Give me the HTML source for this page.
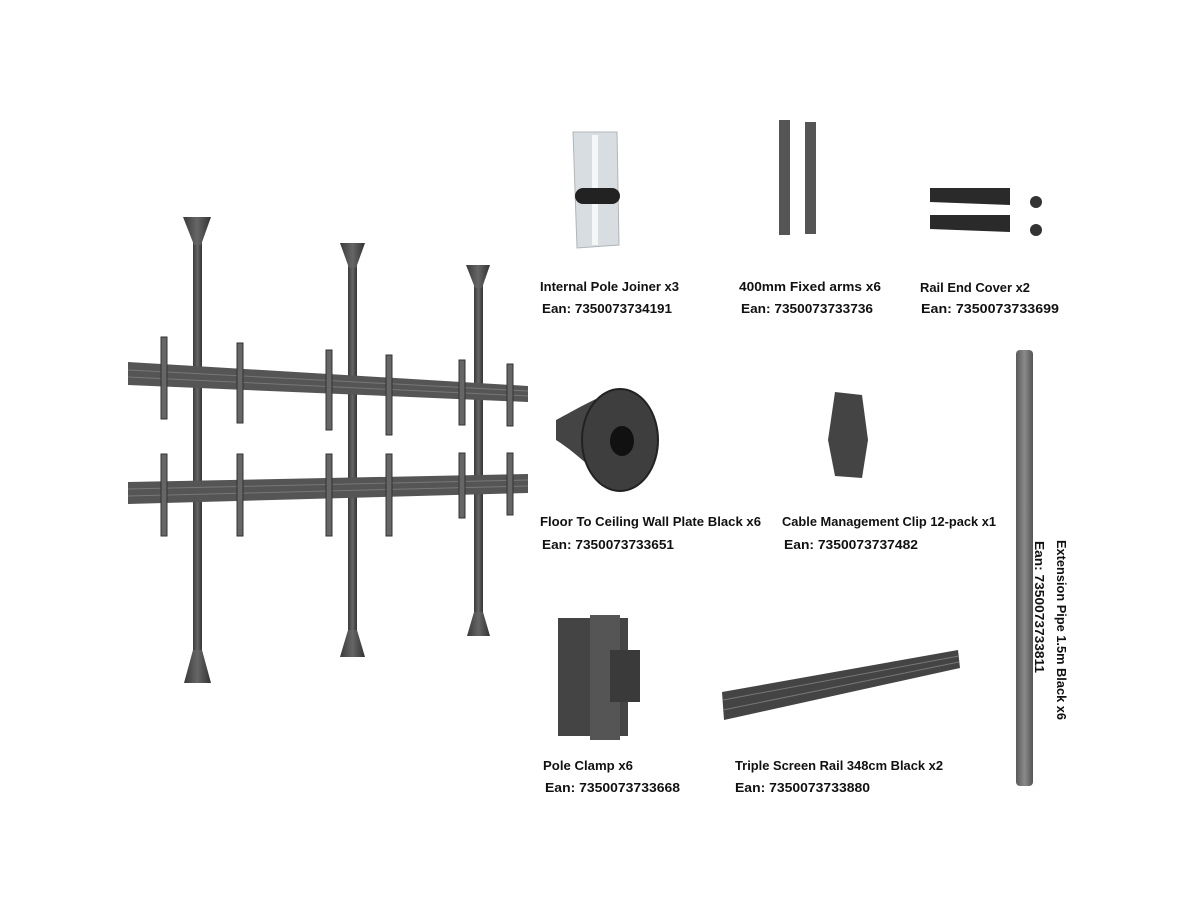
<!DOCTYPE html>
<html><head><meta charset="utf-8"><style>
html,body{margin:0;padding:0;background:#fff;overflow:hidden}
svg{display:block}
text{font-family:"Liberation Sans",sans-serif;font-weight:bold;font-size:13px;fill:#111}
</style></head><body>
<svg width="1200" height="900" viewBox="0 0 1200 900" xmlns="http://www.w3.org/2000/svg">
<defs>
<linearGradient id="pg" x1="0" x2="1"><stop offset="0" stop-color="#3a3a3a"/><stop offset="0.5" stop-color="#666"/><stop offset="1" stop-color="#333"/></linearGradient>
<linearGradient id="pp" x1="0" x2="1"><stop offset="0" stop-color="#5a5a5a"/><stop offset="0.5" stop-color="#8a8a8a"/><stop offset="1" stop-color="#555"/></linearGradient>
</defs>
<!-- poles -->
<g fill="url(#pg)">
<rect x="193" y="228" width="9" height="430"/>
<rect x="348" y="258" width="9" height="380"/>
<rect x="474" y="278" width="9" height="340"/>
<path d="M183 217 L211 217 L201 245 L194 245 Z"/>
<path d="M340 243 L365 243 L356 268 L349 268 Z"/>
<path d="M466 265 L490 265 L482 288 L475 288 Z"/>
<path d="M193 650 L202 650 L211 683 L184 683 Z"/>
<path d="M348 630 L357 630 L365 657 L340 657 Z"/>
<path d="M474 612 L483 612 L490 636 L467 636 Z"/>
</g>
<!-- rails -->
<path d="M128 362 L528 386 L528 402 L128 385 Z" fill="#555"/>
<path d="M128 482 L528 474 L528 493 L128 504 Z" fill="#555"/>
<g stroke="#777" stroke-width="1">
<line x1="128" y1="370" x2="528" y2="391"/><line x1="128" y1="377" x2="528" y2="396"/>
<line x1="128" y1="489" x2="528" y2="480"/><line x1="128" y1="496" x2="528" y2="486"/>
</g>
<!-- arms -->
<g fill="#666" stroke="#333" stroke-width="1">
<rect x="161" y="337" width="6" height="82"/><rect x="237" y="343" width="6" height="80"/>
<rect x="326" y="350" width="6" height="80"/><rect x="386" y="355" width="6" height="80"/>
<rect x="459" y="360" width="6" height="65"/><rect x="507" y="364" width="6" height="62"/>
<rect x="161" y="454" width="6" height="82"/><rect x="237" y="454" width="6" height="82"/>
<rect x="326" y="454" width="6" height="82"/><rect x="386" y="454" width="6" height="82"/>
<rect x="459" y="453" width="6" height="65"/><rect x="507" y="453" width="6" height="62"/>
</g>
<!-- pole joiner -->
<path d="M573 132 L617 132 L619 245 L577 248 Z" fill="#d8dde2" stroke="#b0b5ba"/>
<rect x="592" y="135" width="6" height="110" fill="#f4f6f8"/>
<rect x="575" y="188" width="45" height="16" rx="8" fill="#222"/>
<!-- fixed arms -->
<rect x="779" y="120" width="11" height="115" fill="#555"/>
<rect x="805" y="122" width="11" height="112" fill="#555"/>
<!-- rail end covers -->
<path d="M930 188 L1010 188 L1010 205 L930 202 Z" fill="#2a2a2a"/>
<path d="M930 215 L1010 215 L1010 232 L930 229 Z" fill="#2a2a2a"/>
<circle cx="1036" cy="202" r="6" fill="#333"/><circle cx="1036" cy="230" r="6" fill="#333"/>
<!-- floor plate -->
<path d="M556 420 C575 410 600 395 620 390 L620 490 C600 478 580 455 556 440 Z" fill="#444"/>
<ellipse cx="620" cy="440" rx="38" ry="51" fill="#3e3e3e" stroke="#222" stroke-width="2"/>
<ellipse cx="622" cy="441" rx="12" ry="15" fill="#111"/>
<!-- cable clip -->
<path d="M835 392 L862 395 L868 440 L862 478 L835 476 L828 440 Z" fill="#444"/>
<!-- pole clamp -->
<rect x="558" y="618" width="70" height="118" fill="#444"/>
<rect x="590" y="615" width="30" height="125" fill="#555"/>
<rect x="610" y="650" width="30" height="52" fill="#3a3a3a"/>
<!-- triple rail -->
<path d="M722 692 L958 650 L960 668 L724 720 Z" fill="#444"/>
<line x1="723" y1="700" x2="959" y2="656" stroke="#777"/><line x1="723" y1="710" x2="959" y2="662" stroke="#777"/>
<!-- extension pipe -->
<rect x="1016" y="350" width="17" height="436" rx="4" fill="url(#pp)"/>
<!-- labels -->
<text x="540" y="291" textLength="139" lengthAdjust="spacingAndGlyphs">Internal Pole Joiner x3</text>
<text x="542" y="313" textLength="130" lengthAdjust="spacingAndGlyphs">Ean: 7350073734191</text>
<text x="739" y="291" textLength="142" lengthAdjust="spacingAndGlyphs">400mm Fixed arms x6</text>
<text x="741" y="313" textLength="132" lengthAdjust="spacingAndGlyphs">Ean: 7350073733736</text>
<text x="920" y="292" textLength="110" lengthAdjust="spacingAndGlyphs">Rail End Cover x2</text>
<text x="921" y="313" textLength="138" lengthAdjust="spacingAndGlyphs">Ean:  7350073733699</text>
<text x="540" y="526" textLength="221" lengthAdjust="spacingAndGlyphs">Floor To Ceiling Wall Plate Black x6</text>
<text x="542" y="549" textLength="132" lengthAdjust="spacingAndGlyphs">Ean: 7350073733651</text>
<text x="782" y="526" textLength="214" lengthAdjust="spacingAndGlyphs">Cable Management Clip 12-pack x1</text>
<text x="784" y="549" textLength="134" lengthAdjust="spacingAndGlyphs">Ean: 7350073737482</text>
<text x="543" y="770" textLength="90" lengthAdjust="spacingAndGlyphs">Pole Clamp x6</text>
<text x="545" y="792" textLength="135" lengthAdjust="spacingAndGlyphs">Ean: 7350073733668</text>
<text x="735" y="770" textLength="208" lengthAdjust="spacingAndGlyphs">Triple Screen Rail 348cm Black x2</text>
<text x="735" y="792" textLength="135" lengthAdjust="spacingAndGlyphs">Ean: 7350073733880</text>
<text transform="translate(1057,540) rotate(90)" x="0" y="0" textLength="180" lengthAdjust="spacingAndGlyphs">Extension Pipe 1.5m Black x6</text>
<text transform="translate(1035,541) rotate(90)" x="0" y="0" textLength="132" lengthAdjust="spacingAndGlyphs">Ean: 7350073733811</text>
</svg>
</body></html>
